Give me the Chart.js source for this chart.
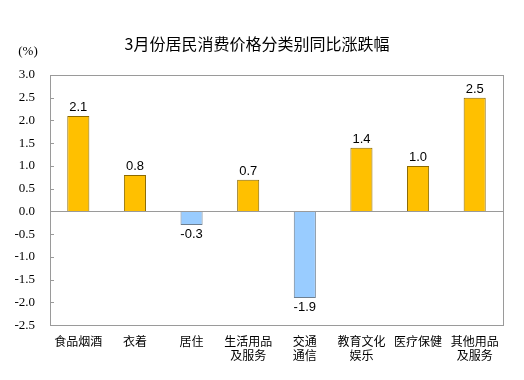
<!DOCTYPE html>
<html><head><meta charset="utf-8">
<script src="https://cdn.jsdelivr.net/npm/chart.js@4/dist/chart.umd.min.js"></script>
<style>html,body{margin:0;padding:0;background:#fff}#wrap{width:524px;height:380px}</style>
</head><body><div id="wrap"><canvas id="c"></canvas></div>
<script>
const categories = [["食品烟酒"],["衣着"],["居住"],["生活用品","及服务"],["交通","通信"],["教育文化","娱乐"],["医疗保健"],["其他用品","及服务"]];
const values = [2.1, 0.8, -0.3, 0.7, -1.9, 1.4, 1.0, 2.5];
const yTicks = [-2.5,-2.0,-1.5,-1.0,-0.5,0.0,0.5,1.0,1.5,2.0,2.5,3.0];
const titleText = "3月份居民消费价格分类别同比涨跌幅";
const unitText = "(%)";

const fills = values.map(v => v >= 0 ? '#FFC000' : '#99CCFF');
const borders = values.map(v => v >= 0 ? '#8C6A00' : '#6E7F90');

const deco = {
  id: 'deco',
  afterDraw(chart) {
    const {ctx, chartArea: a, scales: {x, y}} = chart;
    ctx.save();
    ctx.strokeStyle = '#9a9a9a'; ctx.lineWidth = 1;
    ctx.strokeRect(Math.round(a.left)+0.5, Math.round(a.top)+0.5, Math.round(a.right-a.left), Math.round(a.bottom-a.top));
    const z = Math.round(y.getPixelForValue(0))+0.5;
    ctx.beginPath(); ctx.moveTo(a.left, z); ctx.lineTo(a.right, z); ctx.stroke();
    yTicks.forEach(t => {
      const py = Math.round(y.getPixelForValue(t))+0.5;
      ctx.beginPath(); ctx.moveTo(a.left, py); ctx.lineTo(a.left+4, py); ctx.stroke();
    });
    ctx.fillStyle = '#000'; ctx.font = '13px "Liberation Sans", Arial, sans-serif'; ctx.textAlign = 'center';
    const meta = chart.getDatasetMeta(0);
    meta.data.forEach((bar, i) => {
      const v = values[i];
      if (v >= 0) { ctx.textBaseline = 'bottom'; ctx.fillText(v.toFixed(1), bar.x, bar.y - 2); }
      else { ctx.textBaseline = 'top'; ctx.fillText(v.toFixed(1), bar.x, bar.y + 3); }
    });
    ctx.font = '13px "Liberation Serif", "Times New Roman", serif';
    ctx.textAlign = 'center'; ctx.textBaseline = 'middle';
    ctx.fillText(unitText, 28, 52);
    ctx.font = '16px "Noto Sans CJK SC", sans-serif';
    ctx.fillText(titleText, 257, 44);
    ctx.restore();
  }
};

new Chart(document.getElementById('c'), {
  type: 'bar',
  data: { labels: categories, datasets: [{ data: values, backgroundColor: fills, borderColor: borders, borderWidth: 1, barPercentage: 0.78, categoryPercentage: 0.5 }] },
  options: {
    responsive: true, maintainAspectRatio: false, animation: false,
    layout: { padding: { top: 75, right: 21, left: 0, bottom: 8 } },
    plugins: { legend: { display: false }, tooltip: { enabled: false }, title: { display: false } },
    scales: {
      x: {
        grid: { display: false, drawTicks: false }, border: { display: false },
        ticks: { color: '#000', font: { family: '"Noto Sans CJK SC", sans-serif', size: 12 }, padding: 9, maxRotation: 0, autoSkip: false }
      },
      y: {
        min: -2.5, max: 3.0,
        afterFit(s) { s.width = 50; },
        afterBuildTicks(s) { s.ticks = yTicks.map(v => ({ value: v })); },
        grid: { display: false, drawTicks: false }, border: { display: false },
        ticks: { color: '#000', font: { family: '"Liberation Serif", "Times New Roman", serif', size: 13 }, padding: 15, callback: v => Number(v).toFixed(1) }
      }
    }
  },
  plugins: [deco]
});
</script></body></html>
